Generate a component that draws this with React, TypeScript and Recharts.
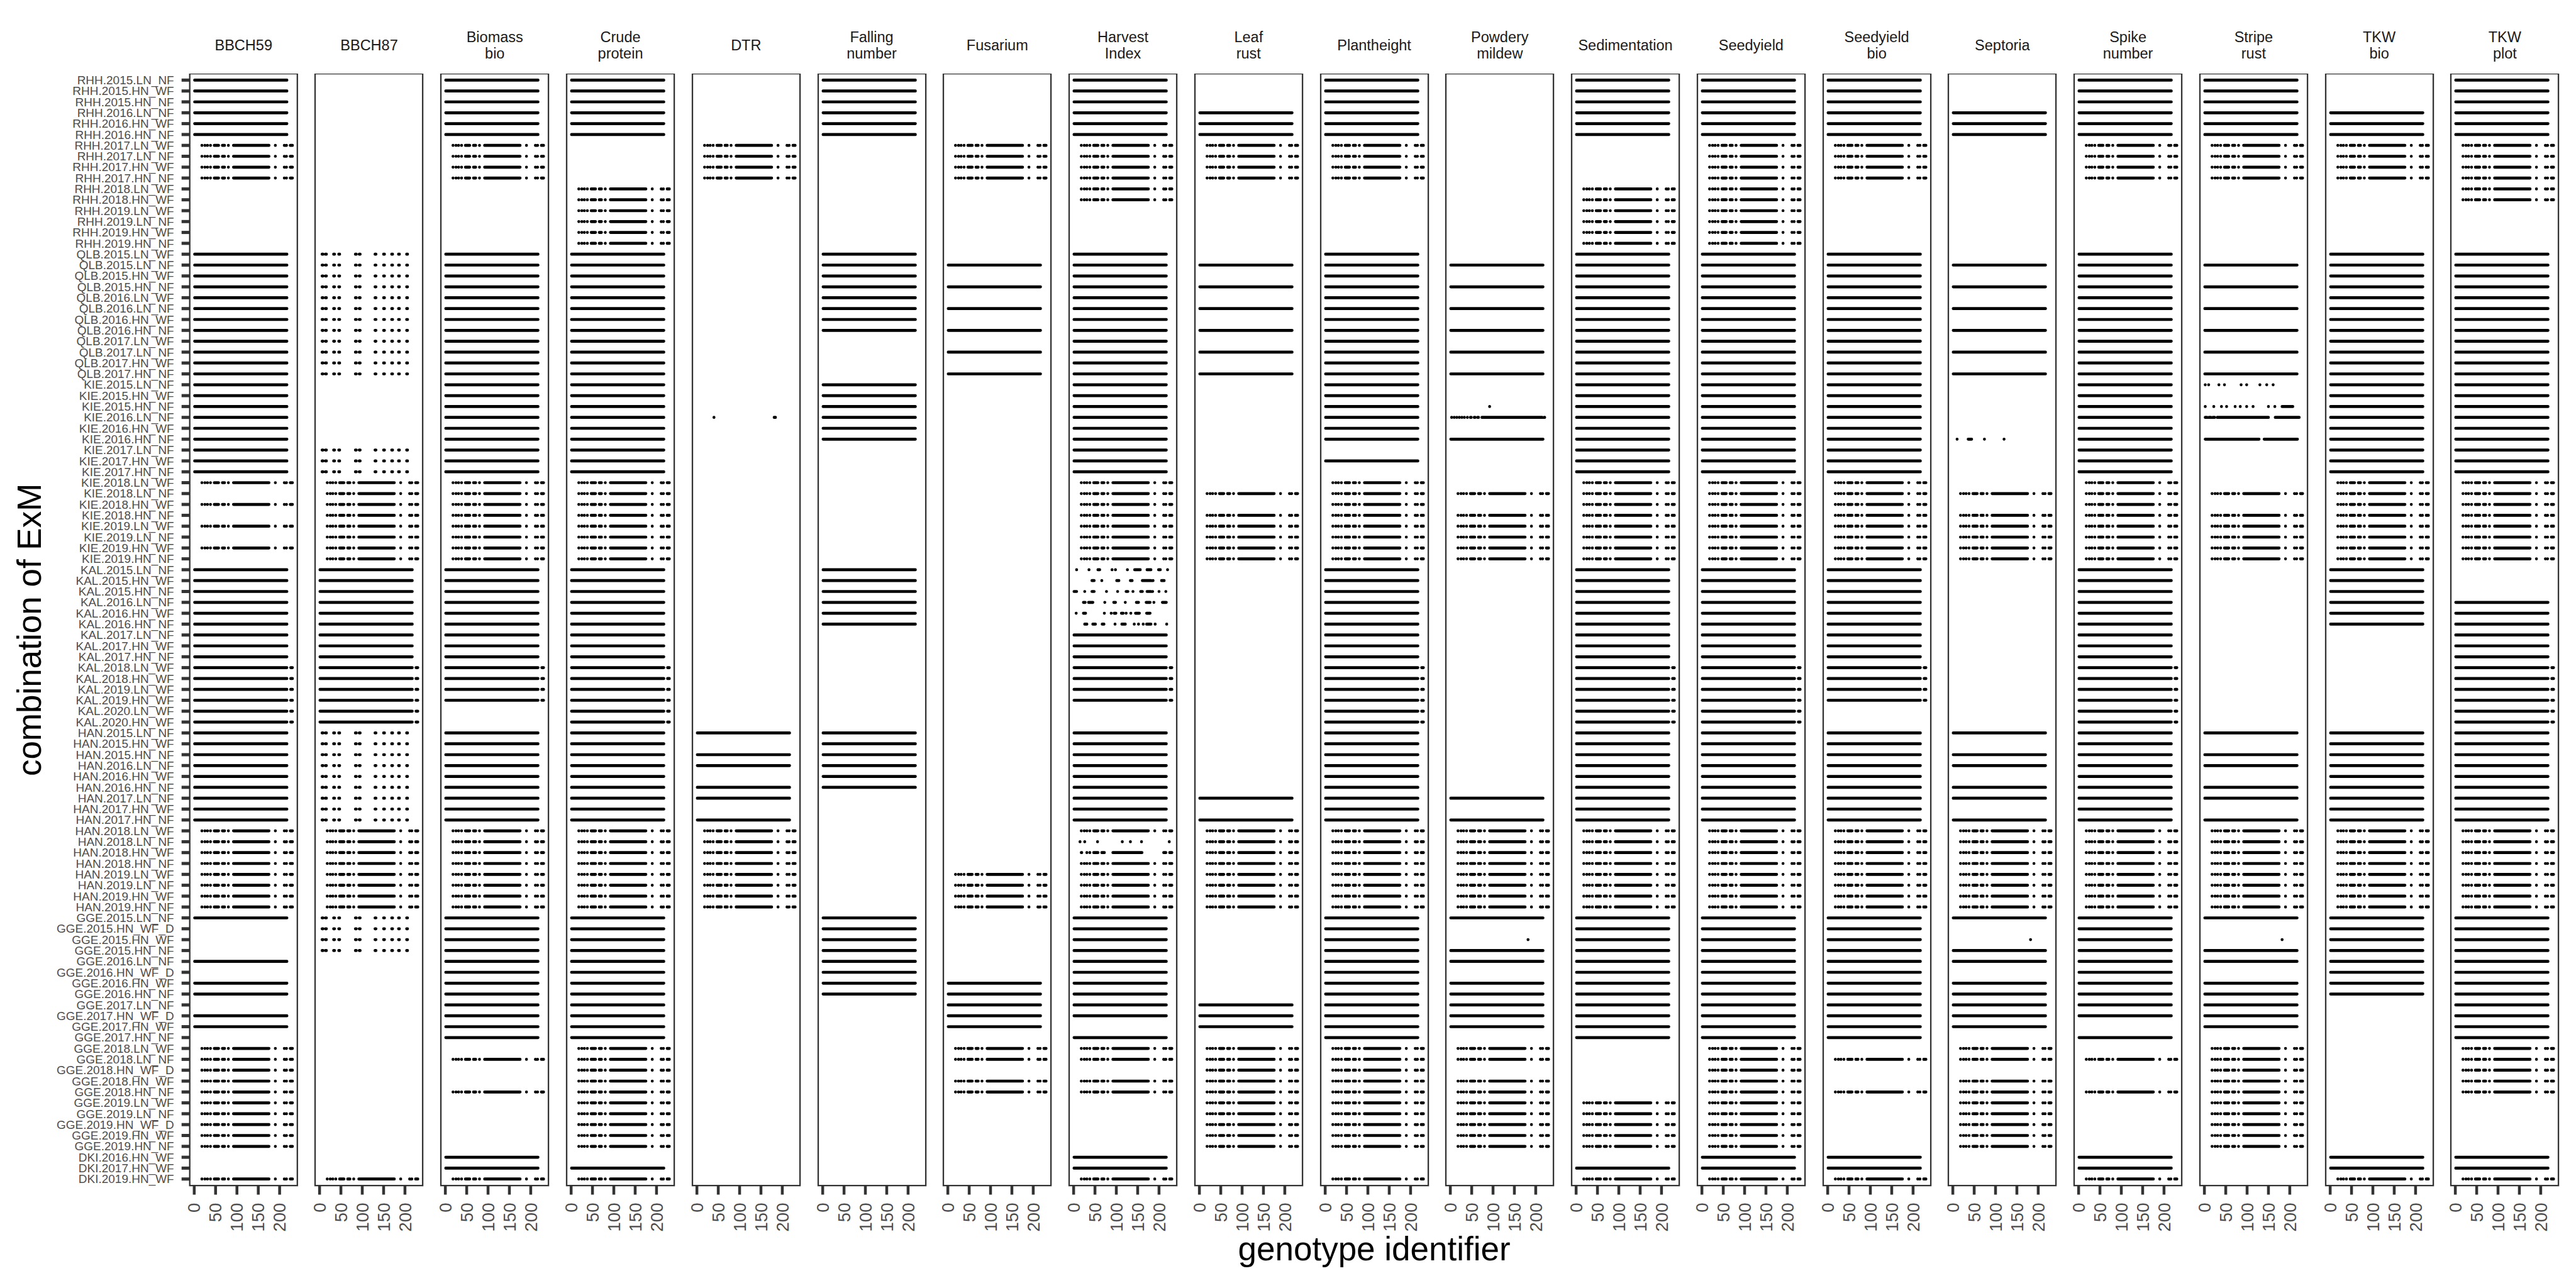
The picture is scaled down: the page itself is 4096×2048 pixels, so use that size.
import React from 'react';
import { LineChart, Line, XAxis, YAxis, ReferenceArea } from 'recharts';

// environment x management combinations, top to bottom
const envLabels = [
  'RHH.2015.LN_NF', 'RHH.2015.HN_WF', 'RHH.2015.HN_NF', 'RHH.2016.LN_NF', 'RHH.2016.HN_WF', 'RHH.2016.HN_NF',
  'RHH.2017.LN_WF', 'RHH.2017.LN_NF', 'RHH.2017.HN_WF', 'RHH.2017.HN_NF', 'RHH.2018.LN_WF', 'RHH.2018.HN_WF',
  'RHH.2019.LN_WF', 'RHH.2019.LN_NF', 'RHH.2019.HN_WF', 'RHH.2019.HN_NF',
  'QLB.2015.LN_WF', 'QLB.2015.LN_NF', 'QLB.2015.HN_WF', 'QLB.2015.HN_NF', 'QLB.2016.LN_WF', 'QLB.2016.LN_NF',
  'QLB.2016.HN_WF', 'QLB.2016.HN_NF', 'QLB.2017.LN_WF', 'QLB.2017.LN_NF', 'QLB.2017.HN_WF', 'QLB.2017.HN_NF',
  'KIE.2015.LN_NF', 'KIE.2015.HN_WF', 'KIE.2015.HN_NF', 'KIE.2016.LN_NF', 'KIE.2016.HN_WF', 'KIE.2016.HN_NF',
  'KIE.2017.LN_NF', 'KIE.2017.HN_WF', 'KIE.2017.HN_NF', 'KIE.2018.LN_WF', 'KIE.2018.LN_NF', 'KIE.2018.HN_WF',
  'KIE.2018.HN_NF', 'KIE.2019.LN_WF', 'KIE.2019.LN_NF', 'KIE.2019.HN_WF', 'KIE.2019.HN_NF',
  'KAL.2015.LN_NF', 'KAL.2015.HN_WF', 'KAL.2015.HN_NF', 'KAL.2016.LN_NF', 'KAL.2016.HN_WF', 'KAL.2016.HN_NF',
  'KAL.2017.LN_NF', 'KAL.2017.HN_WF', 'KAL.2017.HN_NF', 'KAL.2018.LN_WF', 'KAL.2018.HN_WF', 'KAL.2019.LN_WF',
  'KAL.2019.HN_WF', 'KAL.2020.LN_WF', 'KAL.2020.HN_WF',
  'HAN.2015.LN_NF', 'HAN.2015.HN_WF', 'HAN.2015.HN_NF', 'HAN.2016.LN_NF', 'HAN.2016.HN_WF', 'HAN.2016.HN_NF',
  'HAN.2017.LN_NF', 'HAN.2017.HN_WF', 'HAN.2017.HN_NF', 'HAN.2018.LN_WF', 'HAN.2018.LN_NF', 'HAN.2018.HN_WF',
  'HAN.2018.HN_NF', 'HAN.2019.LN_WF', 'HAN.2019.LN_NF', 'HAN.2019.HN_WF', 'HAN.2019.HN_NF',
  'GGE.2015.LN_NF', 'GGE.2015.HN_WF_D', 'GGE.2015.HN_WF', 'GGE.2015.HN_NF', 'GGE.2016.LN_NF', 'GGE.2016.HN_WF_D',
  'GGE.2016.HN_WF', 'GGE.2016.HN_NF', 'GGE.2017.LN_NF', 'GGE.2017.HN_WF_D', 'GGE.2017.HN_WF', 'GGE.2017.HN_NF',
  'GGE.2018.LN_WF', 'GGE.2018.LN_NF', 'GGE.2018.HN_WF_D', 'GGE.2018.HN_WF', 'GGE.2018.HN_NF', 'GGE.2019.LN_WF',
  'GGE.2019.LN_NF', 'GGE.2019.HN_WF_D', 'GGE.2019.HN_WF', 'GGE.2019.HN_NF',
  'DKI.2016.HN_WF', 'DKI.2017.HN_WF', 'DKI.2019.HN_WF',
];

const traitNames = [
  'BBCH59', 'BBCH87', 'Biomass bio', 'Crude protein', 'DTR', 'Falling number', 'Fusarium', 'Harvest Index',
  'Leaf rust', 'Plantheight', 'Powdery mildew', 'Sedimentation', 'Seedyield', 'Seedyield bio', 'Septoria',
  'Spike number', 'Stripe rust', 'TKW bio', 'TKW plot',
];

const genotypeTicks = [0, 50, 100, 150, 200];

// observed genotype id ranges (inclusive)
const fullSet = [[1, 217]];
const fullExtraSet = [[1, 217], [226, 230]];
const subsetSet = [
  [18, 18], [25, 25], [31, 31], [38, 38], [47, 57], [66, 71], [80, 80], [92, 175], [190, 190], [211, 211],
  [216, 216], [225, 230],
];
const bbch87Set = [
  [6, 8], [14, 16], [33, 35], [45, 47], [84, 86], [93, 95], [130, 132], [150, 152], [169, 171], [185, 187], [204, 206],
];

const genotypeSets: Record<string, number[][]> = { F: fullSet, X: fullExtraSet, S: subsetSet, B: bbch87Set };

// one char per env row; groups: RHH QLB KIE KAL HAN GGE DKI ; '*' = see specialRows
const traitCodes = [
  'FFFFFFSSSS...... FFFFFFFFFFFF FFFFFFFFFS.S.S.S. FFFFFFFFFXXXXXX FFFFFFFFFSSSSSSSS F...F.FF.FF.SSSSSSSSSS ..S',
  '................ BBBBBBBBBBBB ......BBBSSSSSSSS FFFFFFFFFXXXXXX BBBBBBBBBSSSSSSSS BBBB.................. ..S',
  'FFFFFFSSSS...... FFFFFFFFFFFF FFFFFFFFFSSSSSSSS FFFFFFFFFXXXX.. FFFFFFFFFSSSSSSSS FFFFFFFFFFFF.S..S..... FFS',
  'FFFFFF....SSSSSS FFFFFFFFFFFF FFFFFFFFFSSSSSSSS FFFFFFFFFXXXXXX FFFFFFFFFSSSSSSSS FFFFFFFFFFFFSSSSSSSSSS .FS',
  '......SSSS...... ............ ...*............. ............... F.FF.FF.FSSSSSSSS ...................... ...',
  'FFFFFF.......... FFFFFFFF.... FFFFFF........... FFFFFF......... FFFFFF........... FFFFFFFF.............. ...',
  '......SSSS...... .F.F.F.F.F.F ................. ............... .............SSSS ......FFFFF.SS.SS..... ...',
  'FFFFFFSSSSSS.... FFFFFFFFFFFF FFFFFFFFFSSSSSSSS ******FFFXXXX.. FFFFFFFFFS**SSSSS FFFFFFFFFF.FSS.SS..... FFS',
  '...FFFSSSS...... .F.F.F.F.F.F ..........S.SSSSS ............... ......F.FSSSSSSSS ........FFF.SSSSSSSSSS ...',
  'FFFFFFSSSS...... FFFFFFFFFFFF FFFFFF.F.SSSSSSSS FFFFFFFFFXXXXXX FFFFFFFFFSSSSSSSS FFFFFFFFFFFFSSSSSSSSSS ..S',
  '................ .F.F.F.F.F.F ..**.F....S.SSSSS ............... ......F.FSSSSSSSS F.*FF.FFFFF.SS.SSSSSSS ...',
  'FFFFFF....SSSSSS FFFFFFFFFFFF FFFFFFFFFSSSSSSSS FFFFFFFFFXXXXXX FFFFFFFFFSSSSSSSS FFFFFFFFFFFF.....SSSSS .FS',
  'FFFFFFSSSSSSSSSS FFFFFFFFFFFF FFFFFFFFFSSSSSSSS FFFFFFFFFXXXXXX FFFFFFFFFSSSSSSSS FFFFFFFFFFFFSSSSSSSSSS FFS',
  'FFFFFFSSSS...... FFFFFFFFFFFF FFFFFFFFFSSSSSSSS FFFFFFFFFXXXX.. FFFFFFFFFSSSSSSSS FFFFFFFFFFFF.S..S..... FFS',
  '...FFF.......... .F.F.F.F.F.F .....*....S.SSSSS ............... F.FF.FF.FSSSSSSSS F.*FF.FFFFF.SS.SSSSSSS ...',
  'FFFFFFSSSS...... FFFFFFFFFFFF FFFFFFFFFSSSSSSSS FFFFFFFFFXXXXXX FFFFFFFFFSSSSSSSS FFFFFFFFFF.F.S..S..... FFS',
  'FFFFFFSSSS...... .F.F.F.F.F.F *.**.*....S.SSSSS ............... F.FF.FF.FSSSSSSSS F.*FF.FFFFF.SSSSSSSSSS ...',
  '...FFFSSSS...... FFFFFFFFFFFF FFFFFFFFFSSSSSSSS FFFFFF......... FFFFFFFFFSSSSSSSS FFFFFFFF.............. FFS',
  'FFFFFFSSSSSS.... FFFFFFFFFFFF FFFFFFFFFSSSSSSSS ...FFFFFFXXXXXX FFFFFFFFFSSSSSSSS FFFFFFFFFFFFSSSSS..... FFS',
];

// rows with their own genotype ranges
const specialRows: Record<string, Record<number, number[][]>> = {
  'DTR': { 31: [[40, 40], [181, 184]] },
  'Harvest Index': {
    45: [[7, 7], [36, 36], [57, 61], [90, 90], [98, 98], [126, 126], [143, 156], [172, 181], [199, 203], [220, 220]],
    46: [[43, 48], [66, 66], [101, 106], [133, 137], [161, 181], [186, 186], [206, 212]],
    47: [[1, 7], [26, 26], [43, 48], [77, 77], [103, 103], [123, 127], [139, 139], [157, 161], [172, 181], [185, 185], [200, 200], [216, 216]],
    48: [[23, 27], [35, 45], [73, 73], [94, 98], [121, 121], [147, 152], [170, 179], [188, 188], [208, 217]],
    49: [[6, 6], [23, 28], [72, 72], [88, 88], [95, 99], [112, 116], [123, 123], [134, 134], [145, 154], [171, 179]],
    50: [[26, 31], [45, 51], [67, 71], [97, 97], [113, 121], [142, 142], [152, 152], [163, 163], [171, 181], [191, 191], [218, 218]],
    70: [[15, 15], [26, 26], [56, 56], [114, 114], [133, 133], [159, 159], [224, 224]],
    71: [[18, 19], [31, 31], [38, 38], [47, 57], [66, 72], [92, 160], [211, 216], [225, 230]],
  },
  'Powdery mildew': {
    30: [[92, 92]],
    31: [[3, 3], [9, 9], [15, 15], [21, 21], [27, 27], [33, 33], [40, 40], [47, 49], [56, 58], [64, 66], [74, 215], [220, 221]],
    79: [[182, 182]],
  },
  'Septoria': {
    33: [[10, 10], [36, 44], [74, 74], [120, 120]],
    79: [[182, 182]],
  },
  'Stripe rust': {
    28: [[2, 2], [10, 10], [34, 34], [47, 47], [86, 86], [99, 99], [130, 130], [146, 146], [161, 161]],
    30: [[2, 2], [22, 22], [40, 40], [52, 52], [72, 72], [84, 84], [99, 99], [114, 114], [150, 150], [165, 165], [182, 207]],
    31: [[2, 6], [11, 15], [20, 24], [30, 150], [166, 222]],
    33: [[2, 128], [140, 218]],
    79: [[182, 182]],
  },
};

const S = 0.578;
const FONT = "'Liberation Sans', Arial, Helvetica, sans-serif";
const PANEL_TOP = 203 * S;
const PLOT_H = (3262 - 203) * S;
const LEFT0 = 522 * S;
const PITCH = 345.6 * S;
const PANEL_W = 296 * S;
const X_AXIS_H = 90;
const PAD = 24; // room for rotated tick labels at the panel sides
const G_DOMAIN: [number, number] = [-10.5, 241.5];
const ROW_DOMAIN: [number, number] = [-0.6, 101.6];
const rowTicks = envLabels.map((_, i) => i);

function panelData(t: number) {
  const code = traitCodes[t].replace(/ /g, '');
  const pts: { g: number; row: number | null }[] = [];
  for (let r = 0; r < code.length; r++) {
    const c = code[r];
    const ranges = c === '*' ? (specialRows[traitNames[t]] || {})[r] : genotypeSets[c];
    if (!ranges) continue;
    ranges.forEach(([a, b]) => {
      pts.push({ g: a, row: r }, { g: b, row: r }, { g: b, row: null });
    });
  }
  return pts;
}

const EnvTick = (props: any) => {
  const { x, y, payload } = props;
  return (
    <text x={x} y={y} dy="0.35em" textAnchor="end" fontSize={19} fill="#4d4d4d" fontFamily={FONT}>
      {envLabels[payload.value]}
    </text>
  );
};

const GenoTick = (props: any) => {
  const { x, y, payload } = props;
  return (
    <text x={x} y={y} dy="0.35em" transform={`rotate(-90, ${x}, ${y})`} textAnchor="end" fontSize={27.5}
      fill="#4d4d4d" fontFamily={FONT}>
      {payload.value}
    </text>
  );
};

const Panel = ({ t }: { t: number }) => {
  const first = t === 0;
  const left = first ? 0 : LEFT0 + t * PITCH - PAD;
  const yw = first ? LEFT0 : 0;
  const ml = first ? 0 : PAD;
  return (
    <div style={{ position: 'absolute', left, top: PANEL_TOP }}>
      <LineChart width={ml + yw + PANEL_W + PAD} height={PLOT_H + X_AXIS_H} data={panelData(t)}
        margin={{ top: 0, right: PAD, bottom: 0, left: ml }}>
        <XAxis dataKey="g" type="number" domain={G_DOMAIN} ticks={genotypeTicks} allowDataOverflow interval={0}
          height={X_AXIS_H} tickSize={14.5} tickMargin={13} axisLine={false}
          tickLine={{ stroke: '#333', strokeWidth: 4.5 }} tick={<GenoTick />} />
        <YAxis type="number" domain={ROW_DOMAIN} reversed allowDataOverflow ticks={rowTicks} interval={0}
          hide={!first} width={yw} tickSize={13} tickMargin={12} axisLine={false}
          tickLine={{ stroke: '#333', strokeWidth: 5 }} tick={<EnvTick />} />
        <ReferenceArea x1={G_DOMAIN[0]} x2={G_DOMAIN[1]} y1={ROW_DOMAIN[0]} y2={ROW_DOMAIN[1]}
          fill="none" stroke="#333" strokeWidth={2.3} ifOverflow="visible" />
        <Line dataKey="row" stroke="#000" strokeWidth={4.7} strokeLinecap="round" dot={false} activeDot={false}
          connectNulls={false} isAnimationActive={false} />
      </LineChart>
    </div>
  );
};

export default function App() {
  const plotRight = LEFT0 + 18 * PITCH + PANEL_W;
  return (
    <div style={{ position: 'absolute', left: 0, top: 0, width: 4096, height: 2048, background: '#fff', fontFamily: FONT }}>
      {traitNames.map((name, t) => (
        <div key={name} style={{
          position: 'absolute', left: LEFT0 + t * PITCH, top: 46, width: PANEL_W, height: 52,
          display: 'flex', alignItems: 'center', justifyContent: 'center', textAlign: 'center',
          whiteSpace: 'pre-line', fontSize: 23.5, lineHeight: '26px', color: '#1a1a1a',
        }}>
          {name.replace(' ', '\n')}
        </div>
      ))}
      {traitNames.map((name, t) => <Panel key={name} t={t} />)}
      <svg width={4096} height={2048} style={{ position: 'absolute', left: 0, top: 0, pointerEvents: 'none' }}>
        <text x={(LEFT0 + plotRight) / 2} y={2004} textAnchor="middle" fontSize={53} fill="#000" fontFamily={FONT}>
          genotype identifier
        </text>
        <text x={65} y={PANEL_TOP + PLOT_H / 2} textAnchor="middle" fontSize={53} fill="#000" fontFamily={FONT}
          transform={`rotate(-90, 65, ${PANEL_TOP + PLOT_H / 2})`}>
          combination of ExM
        </text>
      </svg>
    </div>
  );
}
